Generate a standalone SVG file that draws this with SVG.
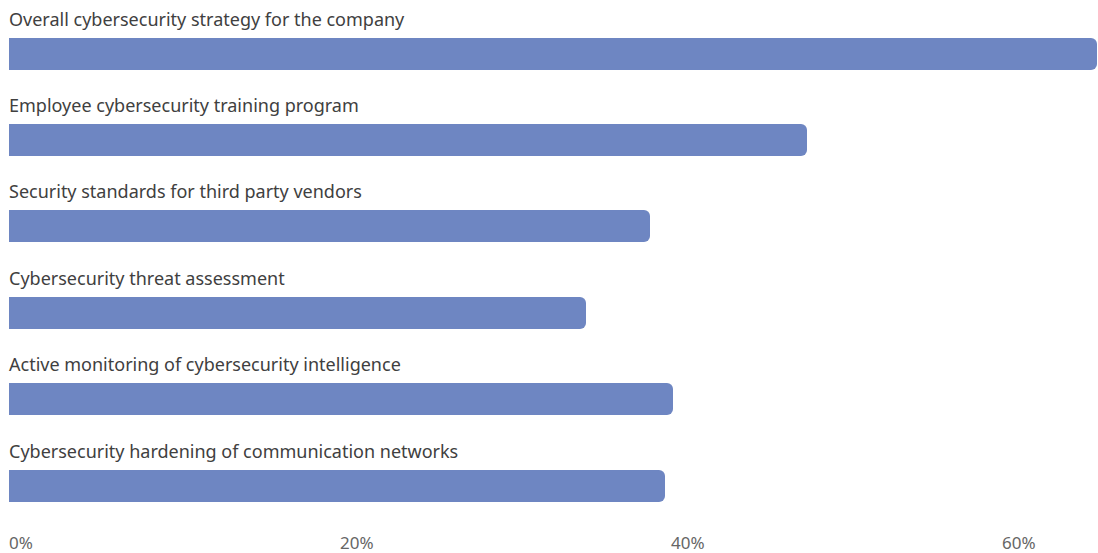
<svg xmlns="http://www.w3.org/2000/svg" width="1098" height="553" viewBox="0 0 1098 553">
<style>
.lbl{font-family:"Noto Sans","Liberation Sans",sans-serif;font-size:18px;fill:#404040}
.ax{font-family:"Noto Sans","Liberation Sans",sans-serif;font-size:17px;fill:#666}
.bar{fill:#6e86c2}
</style>
<rect width="1098" height="553" fill="#fff"/>
<g id="bar1"><text class="lbl" x="9" y="26">Overall cybersecurity strategy for the company</text><path class="bar" d="M9 38H1091a6 6 0 0 1 6 6V64a6 6 0 0 1-6 6H9Z"/></g>
<g id="bar2"><text class="lbl" x="9" y="112">Employee cybersecurity training program</text><path class="bar" d="M9 124H801a6 6 0 0 1 6 6V150a6 6 0 0 1-6 6H9Z"/></g>
<g id="bar3"><text class="lbl" x="9" y="198">Security standards for third party vendors</text><path class="bar" d="M9 210H644a6 6 0 0 1 6 6V236a6 6 0 0 1-6 6H9Z"/></g>
<g id="bar4"><text class="lbl" x="9" y="285">Cybersecurity threat assessment</text><path class="bar" d="M9 297H580a6 6 0 0 1 6 6V323a6 6 0 0 1-6 6H9Z"/></g>
<g id="bar5"><text class="lbl" x="9" y="371">Active monitoring of cybersecurity intelligence</text><path class="bar" d="M9 383H667a6 6 0 0 1 6 6V409a6 6 0 0 1-6 6H9Z"/></g>
<g id="bar6"><text class="lbl" x="9" y="458">Cybersecurity hardening of communication networks</text><path class="bar" d="M9 470H659a6 6 0 0 1 6 6V496a6 6 0 0 1-6 6H9Z"/></g>
<g id="axis">
<text class="ax" x="9" y="549">0%</text>
<text class="ax" x="340" y="549">20%</text>
<text class="ax" x="671" y="549">40%</text>
<text class="ax" x="1002" y="549">60%</text>
</g>
</svg>
